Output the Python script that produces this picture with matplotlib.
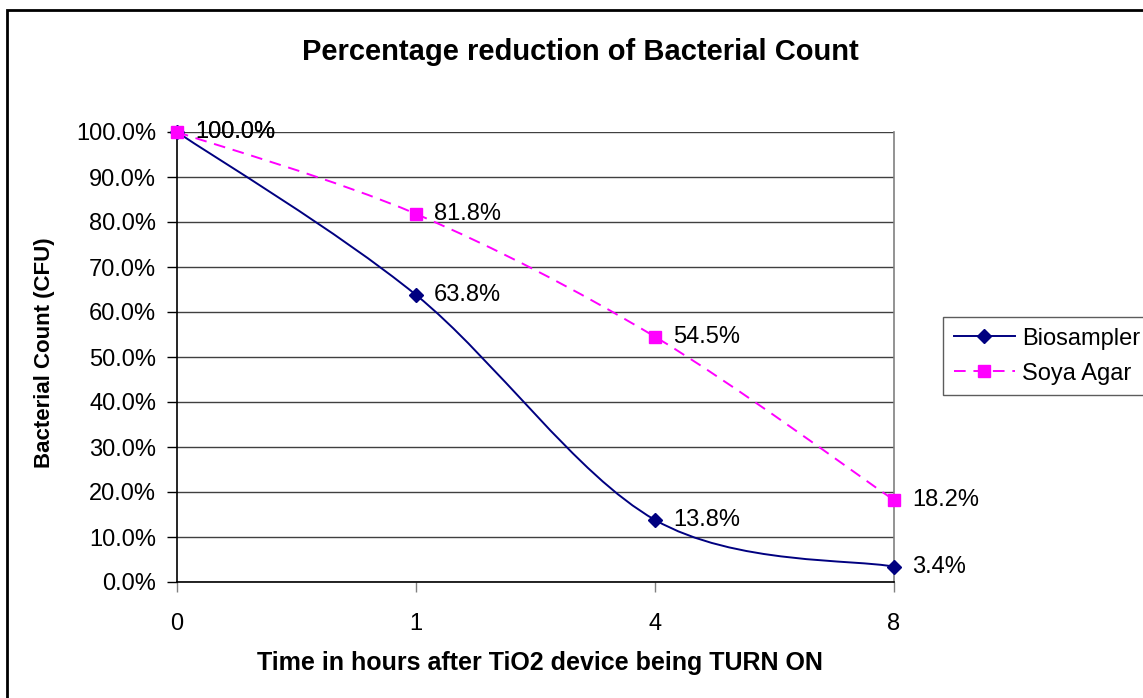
import matplotlib
matplotlib.use("Agg")
import matplotlib.pyplot as plt
from matplotlib.path import Path
from matplotlib.patches import PathPatch, Rectangle
from matplotlib.lines import Line2D
import numpy as np

plt.rcParams['font.family'] = ['Liberation Sans', 'DejaVu Sans']

categories = ["0", "1", "4", "8"]
biosampler = [100.0, 63.8, 13.8, 3.4]
soya_agar = [100.0, 81.8, 54.5, 18.2]
y_ticks = [0, 10, 20, 30, 40, 50, 60, 70, 80, 90, 100]

W, H = 1143, 698
fig = plt.figure(figsize=(W / 100, H / 100), dpi=100)
fig.patch.set_facecolor('white')

# outer chart border (left and top visible)
fig.add_artist(Rectangle((7 / W, -0.05), 1.2, (H - 10) / H + 0.05, transform=fig.transFigure,
                         fill=False, edgecolor='black', lw=2.0))

ax = fig.add_axes([177 / W, 1 - 582 / H, (894 - 177) / W, (582 - 132) / H])
xs = np.arange(len(categories))


def smooth_path(x, y):
    x = list(x); y = list(y)
    n = len(x)
    px = [x[0]] + x + [x[-1]]
    py = [y[0]] + y + [y[-1]]
    verts = [(x[0], y[0])]
    codes = [Path.MOVETO]
    for i in range(n - 1):
        p0 = (px[i], py[i]); p1 = (px[i + 1], py[i + 1])
        p2 = (px[i + 2], py[i + 2]); p3 = (px[i + 3], py[i + 3])
        c1 = (p1[0] + (p2[0] - p0[0]) / 6, p1[1] + (p2[1] - p0[1]) / 6)
        c2 = (p2[0] - (p3[0] - p1[0]) / 6, p2[1] - (p3[1] - p1[1]) / 6)
        verts += [c1, c2, p2]
        codes += [Path.CURVE4] * 3
    return Path(verts, codes)


navy = '#000080'
magenta = '#FF00FF'

ax.add_patch(PathPatch(smooth_path(xs, biosampler), fill=False, edgecolor=navy, lw=1.4, zorder=3))
ax.add_patch(PathPatch(smooth_path(xs, soya_agar), fill=False, edgecolor=magenta, lw=1.4,
                       linestyle=(0, (6, 4)), zorder=3))
ax.plot(xs, biosampler, linestyle='none', marker='D', markersize=7, color=navy, zorder=4, clip_on=False)
ax.plot(xs, soya_agar, linestyle='none', marker='s', markersize=8, color=magenta, zorder=4, clip_on=False)

for x, v in zip(xs, biosampler):
    ax.annotate(f"{v:.1f}%", (x, v), xytext=(13, 0), textcoords='offset points',
                va='center', ha='left', fontsize=17, zorder=5)
for x, v in zip(xs, soya_agar):
    ax.annotate(f"{v:.1f}%", (x, v), xytext=(13, 0), textcoords='offset points',
                va='center', ha='left', fontsize=17, zorder=5)

ax.set_xlim(0, 3)
ax.set_ylim(0, 100)
ax.set_xticks(xs)
ax.set_xticklabels(categories, fontsize=17)
ax.set_yticks(y_ticks)
ax.set_yticklabels([f"{t:.1f}%" for t in y_ticks], fontsize=17)
ax.tick_params(axis='y', direction='out', length=7, width=1, color='black', pad=8)
ax.tick_params(axis='x', direction='out', length=7, width=1, color='#808080', pad=15)
ax.yaxis.grid(True, color='#404040', lw=1)
ax.set_axisbelow(True)
ax.spines['top'].set_visible(False)
ax.spines['right'].set_color('#808080')
ax.spines['left'].set_color('black')
ax.spines['bottom'].set_color('black')
for s in ax.spines.values():
    s.set_linewidth(1.2)

fig.text(580 / W, 1 - 52 / H, "Percentage reduction of Bacterial Count", ha='center', va='center',
         fontsize=21, fontweight='bold')
fig.text(45 / W, 1 - 353 / H, "Bacterial Count (CFU)", ha='center', va='center', rotation=90,
         fontsize=16, fontweight='bold')
fig.text(540 / W, 1 - 663 / H, "Time in hours after TiO2 device being TURN ON", ha='center', va='center',
         fontsize=18, fontweight='bold')

handles = [Line2D([], [], color=navy, lw=1.4, marker='D', markersize=7),
           Line2D([], [], color=magenta, lw=1.4, linestyle=(0, (6, 4)), marker='s', markersize=8)]
leg = fig.legend(handles, ["Biosampler", "Soya Agar"], loc='upper left',
                 bbox_to_anchor=(943 / W, 1 - 317 / H), fontsize=17, frameon=True, fancybox=False,
                 edgecolor='#333333', handlelength=2.6, handletextpad=0.3, borderpad=0.45,
                 labelspacing=0.55, borderaxespad=0)
leg.get_frame().set_linewidth(1.0)

fig.savefig("out.png", dpi=100)
